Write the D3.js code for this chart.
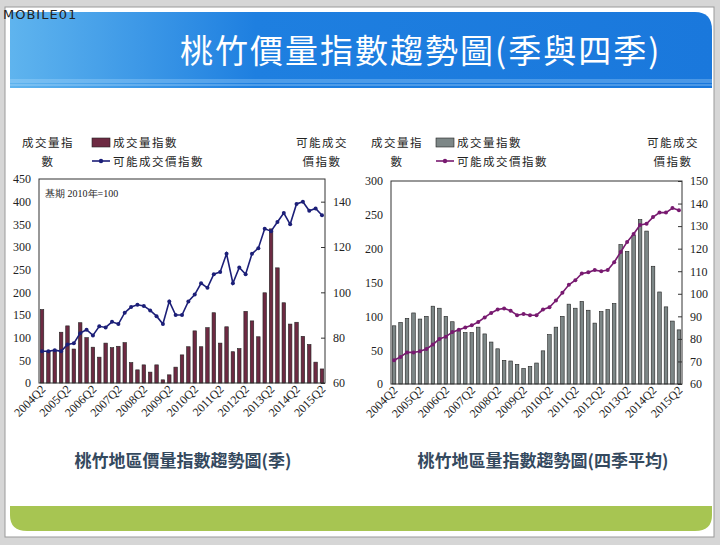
<!DOCTYPE html>
<html><head><meta charset="utf-8">
<script src="https://cdn.jsdelivr.net/npm/d3@7"></script>
<style>body{margin:0;background:#d6d6d6}svg{display:block}</style>
</head><body><svg id="c" width="720" height="545"></svg>
<script>
const quarters=[];for(let y=2004;y<=2015;y++)for(let q=1;q<=4;q++){if(y===2004&&q<2)continue;if(y===2015&&q>2)continue;quarters.push(y+"Q"+q);}
const xTickLabels=["2004Q2","2005Q2","2006Q2","2007Q2","2008Q2","2009Q2","2010Q2","2011Q2","2012Q2","2013Q2","2014Q2","2015Q2"];
const volQ=[162,70,72,112,126,75,133,100,79,57,88,78,81,89,45,29,40,24,40,7,18,35,62,80,115,80,122,155,88,124,69,76,158,137,102,199,340,254,177,130,134,103,85,46,31];
const priceQ=[74,74,74.5,74,77,77.5,82,83.5,81,85,84.5,87,86,91,93.5,94.5,94,92,89.5,86,96,90,90,96,99,104,102,108,109,117,104,111,108,117,119.5,128,127,131,135,130,139,140,136,137,134];
const vol4=[86,91,97,105,96,100,115,112,100,92,80,76,76,84,74,62,52,35,34,29,23,26,31,49,73,84,100,118,112,122,109,90,107,110,119,206,196,220,243,226,174,136,114,93,80];
const price4=[70.5,72,74,74,74.5,75.5,77.5,80,81,83,84,85,86,87.5,89.5,91.5,93,93.5,92.5,90.5,91,90.5,90.5,93,94,97,100.5,104,106,109,109.5,110.5,110,110.5,114,118.5,123,126.5,130.5,131,134,136,136,138,137];
const leftTicksA=[0,50,100,150,200,250,300,350,400,450], rightTicksA=[60,80,100,120,140];
const leftTicksB=[0,50,100,150,200,250,300], rightTicksB=[60,70,80,90,100,110,120,130,140,150];

const svg=d3.select("#c");
const defs=svg.append("defs");
const g1=defs.append("linearGradient").attr("id","hdr").attr("x1",0).attr("x2",1);
g1.append("stop").attr("offset",0).attr("stop-color","#5fb4ee");
g1.append("stop").attr("offset",0.35).attr("stop-color","#1e7fe0");
g1.append("stop").attr("offset",1).attr("stop-color","#1a78dc");
svg.append("rect").attr("x",5).attr("y",7).attr("width",709).attr("height",530).attr("fill","#fff").attr("stroke","#999");
svg.append("path").attr("d","M10,12 H695 Q712,12 712,30 V88 H10 Z").attr("fill","url(#hdr)");
[80,82,85].forEach(y=>svg.append("line").attr("x1",10).attr("x2",712).attr("y1",y).attr("y2",y).attr("stroke","#bfe2ff").attr("stroke-opacity",0.6));
svg.append("text").attr("x",180).attr("y",63).attr("fill","#fff").attr("font-family","Noto Sans CJK TC").attr("font-size",33).attr("letter-spacing",2).text("桃竹價量指數趨勢圖(季與四季)");
svg.append("text").attr("x",3).attr("y",19).attr("font-family","DejaVu Sans").attr("font-size",13).attr("fill","#222").attr("letter-spacing",1).text("MOBILE01");
svg.append("path").attr("d","M10,506 H712 V515 Q712,531 695,531 H27 Q10,531 10,515 Z").attr("fill","#a7c552");
svg.append("text").attr("x",183).attr("y",467).attr("text-anchor","middle").attr("font-family","Noto Sans CJK TC").attr("font-weight","bold").attr("font-size",17).attr("fill","#34495e").text("桃竹地區價量指數趨勢圖(季)");
svg.append("text").attr("x",543).attr("y",467).attr("text-anchor","middle").attr("font-family","Noto Sans CJK TC").attr("font-weight","bold").attr("font-size",17).attr("fill","#34495e").text("桃竹地區量指數趨勢圖(四季平均)");

function chart(o){
  const x=d3.scaleBand().domain(quarters).range([o.x0,o.x1]).paddingInner(0.45).paddingOuter(0.2);
  const yl=d3.scaleLinear().domain([0,o.lmax]).range([o.y1,o.y0]);
  const yr=d3.scaleLinear().domain([60,o.rmax]).range([o.y1,o.y0]);
  const g=svg.append("g");
  g.selectAll(".b").data(o.vol).join("rect").attr("x",(d,i)=>x(quarters[i])).attr("width",x.bandwidth())
    .attr("y",d=>yl(d)).attr("height",d=>o.y1-yl(d)).attr("fill",o.bar).attr("stroke","#222").attr("stroke-width",0.6);
  g.append("rect").attr("x",o.x0).attr("y",o.y0).attr("width",o.x1-o.x0).attr("height",o.y1-o.y0).attr("fill","none").attr("stroke","#333");
  const cx=(d,i)=>x(quarters[i])+x.bandwidth()/2;
  g.append("path").datum(o.price).attr("fill","none").attr("stroke",o.line).attr("stroke-width",1.6)
    .attr("d",d3.line().x(cx).y(d=>yr(d)));
  g.selectAll(".p").data(o.price).join("circle").attr("cx",cx).attr("cy",d=>yr(d)).attr("r",2).attr("fill",o.line);
  const la=g.append("g").attr("transform",`translate(${o.x0},0)`).call(d3.axisLeft(yl).tickValues(o.lt).tickSize(0).tickPadding(8));
  const ra=g.append("g").attr("transform",`translate(${o.x1},0)`).call(d3.axisRight(yr).tickValues(o.rt).tickSize(-4).tickPadding(8));
  const xa=g.append("g").attr("transform",`translate(0,${o.y1})`).call(d3.axisBottom(x).tickValues(xTickLabels).tickSize(0).tickPadding(4));
  [la,ra,xa].forEach(a=>{a.attr("font-family","Liberation Serif").attr("font-size",12);a.select(".domain").remove();a.selectAll("text").attr("fill","#222");});
  ra.selectAll("line").attr("stroke","#333");
  xa.selectAll("text").attr("text-anchor","end").attr("dx","-2").attr("dy","4").attr("transform","rotate(-45)");
  const cj="Noto Sans CJK TC";
  const t=(x,y,s,a)=>svg.append("text").attr("x",x).attr("y",y).attr("text-anchor",a||"middle").attr("font-family",cj).attr("font-size",11.5).attr("fill","#222").attr("letter-spacing",1.5).text(s);
  t(o.lx,147,"成交量指");t(o.lx,166,"數");
  t(o.rx,147,"可能成交");t(o.rx,166,"價指數");
  svg.append("rect").attr("x",o.legx).attr("y",138).attr("width",18).attr("height",9).attr("fill",o.bar).attr("stroke","#222").attr("stroke-width",0.6);
  t(o.legx+21,147,"成交量指數","start");
  svg.append("line").attr("x1",o.legx).attr("x2",o.legx+18).attr("y1",161).attr("y2",161).attr("stroke",o.line).attr("stroke-width",1.6);
  svg.append("circle").attr("cx",o.legx+9).attr("cy",161).attr("r",2.2).attr("fill",o.line);
  t(o.legx+21,166,"可能成交價指數","start");
}
chart({x0:39,x1:325,y0:179,y1:383,lmax:450,rmax:150,lt:leftTicksA,rt:rightTicksA,vol:volQ,price:priceQ,bar:"#6d2a42",line:"#1c1f78",lx:48,rx:322,legx:92});
chart({x0:391,x1:682,y0:181,y1:384,lmax:300,rmax:150,lt:leftTicksB,rt:rightTicksB,vol:vol4,price:price4,bar:"#7d8787",line:"#781a70",lx:397,rx:673,legx:436});
svg.append("text").attr("x",45).attr("y",197).attr("font-family","Liberation Serif").attr("font-size",10).attr("fill","#222").text("基期 2010年=100");
</script></body></html>
